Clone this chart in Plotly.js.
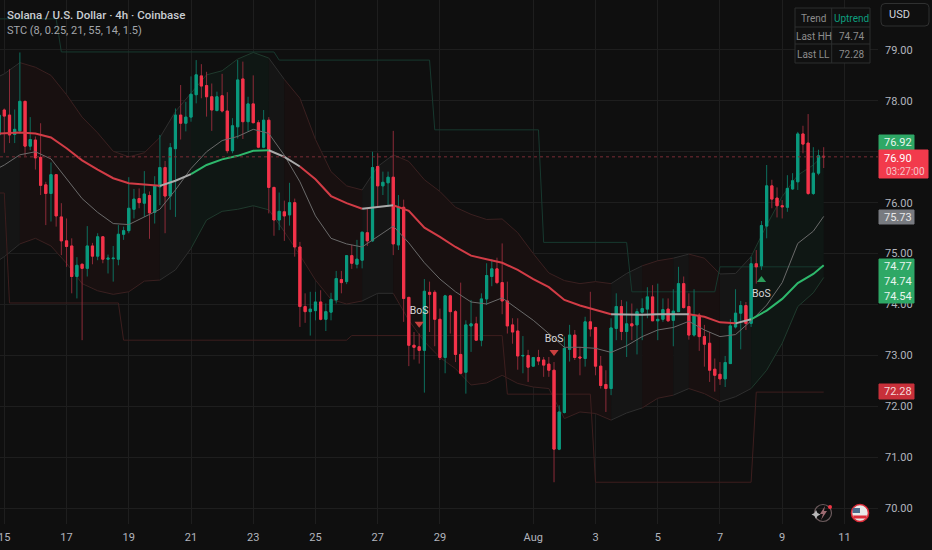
<!DOCTYPE html>
<html>
<head>
<meta charset="utf-8">
<script src="https://cdn.plot.ly/plotly-3.0.1.min.js"></script>
<style>html,body{margin:0;padding:0;background:#0f0f0f}#c{width:932px;height:550px}</style>
</head>
<body>
<div id="c"></div>
<script>
const firstCandle = -1;
const open = [77.33,77.82,77.72,77.34,77.41,77.99,77.11,77.23,76.89,76.35,76.18,76.55,75.72,75.25,75.15,74.55,74.79,74.71,75.15,74.95,75.33,74.89,74.90,74.89,75.38,75.45,75.87,76.08,75.99,76.14,75.81,76.31,76.69,76.13,77.06,77.72,77.56,77.68,78.12,78.49,78.30,78.08,77.81,78.10,77.80,77.02,77.49,78.43,77.59,77.94,77.57,77.09,77.62,76.30,75.66,75.82,75.76,76.00,75.13,73.96,73.86,73.88,74.05,73.71,73.85,74.09,74.49,74.45,74.96,74.79,74.87,75.41,75.25,76.71,76.33,76.39,76.50,75.17,75.91,74.14,73.20,73.17,73.10,74.24,74.24,73.71,72.96,74.17,73.86,73.02,72.67,73.58,73.62,73.30,74.11,74.55,74.70,74.43,74.07,73.60,73.48,72.99,73.00,72.79,72.96,72.91,72.83,72.71,71.16,71.88,73.12,73.40,72.97,72.94,73.66,73.55,72.79,72.43,72.35,73.53,73.96,73.47,73.62,73.60,73.85,73.91,74.15,73.68,73.71,73.91,73.69,73.86,74.41,73.96,73.40,73.79,73.37,73.24,72.73,72.63,72.54,72.84,73.56,73.83,73.98,73.63,74.80,74.76,75.54,76.33,76.09,75.94,75.91,76.27,76.41,77.35,77.17,76.18,76.58,76.91];
const high = [77.95,77.85,78.62,77.83,78.95,78.00,77.68,77.30,77.56,76.41,76.79,76.56,75.99,75.69,75.30,74.93,74.81,75.54,75.21,75.40,75.33,74.98,75.15,75.56,75.53,76.50,76.27,76.28,76.62,76.22,76.52,77.33,76.82,77.17,77.85,78.31,77.98,78.48,78.80,78.72,78.57,78.34,78.18,78.53,78.17,77.66,78.80,78.77,78.08,78.50,77.62,77.82,77.68,76.31,76.20,76.04,76.39,76.08,75.23,74.22,74.25,74.25,74.28,74.02,74.23,74.66,74.66,74.97,75.17,75.27,75.43,75.89,77.00,76.97,76.61,76.61,77.41,76.15,76.06,74.15,73.46,73.43,74.50,74.45,74.28,73.92,74.19,74.19,73.89,74.43,73.69,74.09,73.76,74.22,74.81,74.89,74.92,75.20,74.45,73.73,73.73,73.38,73.11,72.97,73.11,72.97,72.97,72.87,72.02,73.37,73.60,73.50,73.17,73.76,74.25,73.56,72.99,72.71,73.73,74.22,74.09,74.06,74.02,73.92,74.12,74.34,74.38,74.41,74.12,74.12,74.30,74.74,74.55,74.22,74.30,73.83,73.60,73.46,72.94,72.87,72.99,73.71,74.30,74.07,74.05,74.94,75.07,75.64,76.74,76.45,76.30,76.05,76.54,76.58,77.39,77.51,77.74,77.09,77.04,77.09];
const low = [77.23,76.98,77.17,77.17,77.36,76.92,77.03,76.65,76.15,75.56,75.63,75.53,74.97,74.74,74.22,74.12,73.30,74.55,74.79,74.87,74.81,74.61,74.45,74.77,75.27,75.40,75.69,75.89,75.72,75.29,75.59,75.95,75.40,75.86,75.72,77.24,77.40,77.59,77.95,78.05,77.69,77.41,77.79,77.77,76.97,76.97,77.26,77.25,77.40,77.56,77.07,77.07,75.79,75.35,75.46,75.25,75.55,74.94,73.56,73.64,73.39,73.69,73.69,73.48,73.69,74.02,74.22,74.40,74.70,74.71,74.71,75.15,75.23,75.92,76.15,75.92,74.97,75.07,73.66,72.79,72.92,72.84,72.27,73.46,73.18,72.91,72.65,73.43,72.87,72.63,72.25,73.07,73.29,73.18,73.99,74.36,74.40,73.81,73.43,73.23,72.72,72.65,72.48,72.79,72.81,72.58,72.58,70.51,71.14,71.86,72.88,72.91,72.61,72.78,73.37,72.61,72.35,71.89,72.22,73.30,73.30,72.97,73.30,73.02,73.30,73.73,73.68,73.30,73.66,73.66,73.18,73.86,73.92,73.31,73.37,73.09,72.78,72.48,72.29,72.42,72.38,72.84,73.53,73.12,73.50,73.56,74.41,74.68,75.30,75.89,75.71,75.69,75.82,76.25,76.25,76.97,76.15,76.15,76.54,76.68];
const close = [77.72,77.70,77.33,77.44,77.99,77.11,77.24,76.88,76.34,76.18,76.55,75.74,75.25,75.14,74.55,74.77,74.71,75.15,74.95,75.33,74.89,74.91,74.91,75.38,75.45,75.89,76.07,76.00,76.17,75.80,76.33,76.69,76.13,77.08,77.72,77.56,77.68,78.13,78.51,78.29,78.08,77.82,78.08,77.80,77.02,77.51,78.41,77.59,77.94,77.57,77.09,77.62,76.30,75.66,75.83,75.74,76.00,75.13,73.96,73.86,73.91,74.05,73.71,73.86,74.10,74.51,74.43,74.96,74.81,74.89,75.42,75.25,76.69,76.33,76.40,76.50,75.19,75.91,74.12,73.20,73.16,73.10,74.26,74.20,73.71,72.96,74.17,73.86,73.02,72.65,73.60,73.62,73.30,74.11,74.57,74.70,74.43,74.07,73.58,73.46,72.99,73.00,72.77,72.96,72.89,72.81,72.71,71.16,71.89,73.14,73.40,72.96,72.95,73.66,73.52,72.79,72.41,72.35,73.54,73.96,73.47,73.62,73.58,73.86,73.92,74.15,73.68,73.71,73.90,73.68,73.87,74.41,73.94,73.40,73.79,73.37,73.22,72.71,72.61,72.54,72.86,73.58,73.83,73.98,73.63,74.80,74.74,75.55,76.33,76.07,75.94,75.92,76.28,76.43,77.35,77.15,76.18,76.58,76.92,76.90];

const dayTicks = [0,12,24,36,48,60,72,84,102,114,126,138,150,162];
const dayLabels = ["15","17","19","21","23","25","27","29","Aug","3","5","7","9","11"];
const priceTicks = [70,71,72,73,74,75,76,77,78,79];

const bandX = [-3,0,3,6,9,12,15,18,21,24,27,30,33,36,39,42,45,48,51,54,57,60,63,66,69,72,75,78,81,84,87,90,93,96,99,102,105,108,111,114,117,120,123,126,129,132,135,138,141,144,147,150,153,156,158];
const bandUpper = [78.38,78.53,78.75,78.66,78.50,78.12,77.68,77.37,77.01,76.90,76.98,77.28,77.79,78.15,78.51,78.59,78.82,78.95,78.84,78.42,78.05,77.24,76.61,76.33,76.25,76.71,76.94,76.81,76.45,76.22,75.91,75.77,75.67,75.68,75.41,75.00,74.62,74.47,74.41,74.45,74.41,74.61,74.76,74.86,74.91,74.99,74.91,74.60,74.61,74.94,75.56,76.12,76.54,76.74,76.94];
const bandLower = [74.74,74.94,75.19,75.30,75.15,74.81,74.41,74.27,74.20,74.25,74.46,74.48,74.68,75.10,75.66,75.83,75.87,75.94,75.86,75.43,74.97,74.48,74.10,74.01,74.07,74.22,74.22,73.69,73.27,72.96,72.74,72.42,72.46,72.61,72.45,72.38,72.35,71.76,71.89,71.86,71.73,71.87,71.97,72.16,72.22,72.35,72.25,72.09,72.19,72.35,72.71,73.24,73.96,74.23,74.53];
const fastLine = [76.58,76.74,76.94,77.00,76.86,76.48,76.08,75.81,75.59,75.57,75.72,75.87,76.25,76.67,77.00,77.22,77.30,77.44,77.36,76.93,76.41,75.74,75.30,75.19,75.13,75.33,75.54,75.21,74.82,74.50,74.25,74.05,74.01,74.13,73.91,73.69,73.43,73.16,73.16,73.14,73.06,73.19,73.37,73.50,73.55,73.67,73.50,73.37,73.41,73.68,73.99,74.43,75.20,75.44,75.73];
const emaLine = [77.35,77.37,77.38,77.36,77.28,77.07,76.83,76.65,76.48,76.38,76.35,76.33,76.43,76.56,76.74,76.85,76.92,77.02,77.03,76.90,76.71,76.46,76.13,75.99,75.88,75.91,75.95,75.84,75.51,75.33,75.13,74.96,74.89,74.82,74.68,74.50,74.34,74.09,73.98,73.89,73.81,73.80,73.80,73.81,73.81,73.81,73.76,73.65,73.63,73.71,73.88,74.11,74.42,74.60,74.77];

const fillBreaks = [-3,3,30,36,51,54,69,75,117,123,129,132,138,144,158];
const fillStates = ["n","r","n","g","n","r","n","r","n","r","n","r","n","g"];
const emaBreaks = [-3,30,36,51,57,69,75,117,132,141,144,158];
const emaStates = ["r","n","g","n","r","n","r","n","r","n","g"];

const hhX = [-1,10,11,52,53,82,83,103,104,120,121,137,138,158];
const hhY = [79.61,79.61,78.96,78.96,78.80,78.80,77.43,77.43,75.22,75.22,74.25,74.25,74.74,74.74];
const llX = [-1,0,1,22,23,66,67,96,97,113,114,144,145,158];
const llY = [76.19,76.19,74.03,74.03,73.30,73.30,73.39,73.39,72.24,72.24,70.51,70.51,72.28,72.28];

const bosX = [80,106,146];
const bosTextY = [73.87,73.32,74.19];
const bosMarkY = [73.62,73.07,74.48];
const bosSymbol = ["triangle-down","triangle-down","triangle-up"];
const bosColor = ["#c9403f","#c9403f","#2a9d5a"];

const lastClose = 76.90;

const W = 878, H = 524;
const px = x => x / W;
const py = y => 1 - y / H;
const xs = open.map((_, k) => k + firstCandle);

const RED = "#f5334a", GREEN = "#0a9a7e", RED_W = "#8c2b38", GREEN_W = "#0d6f5e";
const fillCol = { r: "#181010", g: "#0f1714", n: "#151515" };
const edgeCol = { r: "#3a2020", g: "#1f3a2d", n: "#2e2e2e" };
const emaCol = { r: "#d23c46", g: "#2eb86c", n: "#aaaaaa" };

const traces = [];
fillStates.forEach((s, k) => {
  const a = bandX.indexOf(fillBreaks[k]), b = bandX.indexOf(fillBreaks[k + 1]) + 1;
  const segX = bandX.slice(a, b);
  traces.push({ type: "scatter", zorder: 0, mode: "lines", x: segX, y: bandLower.slice(a, b), line: { color: edgeCol[s], width: 1 }, hoverinfo: "skip" });
  traces.push({ type: "scatter", zorder: 0, mode: "lines", x: segX, y: bandUpper.slice(a, b), line: { color: edgeCol[s], width: 1 }, fill: "tonexty", fillcolor: fillCol[s], hoverinfo: "skip" });
});
traces.push({ type: "scatter", zorder: 1, mode: "lines", x: hhX, y: hhY, line: { color: "#17392f", width: 1 }, hoverinfo: "skip" });
traces.push({ type: "scatter", zorder: 1, mode: "lines", x: llX, y: llY, line: { color: "#3d1e1e", width: 1 }, hoverinfo: "skip" });

// wicks
traces.push({ type: "candlestick", zorder: 2, x: xs, open, high, low, close, whiskerwidth: 0,
  increasing: { line: { color: GREEN_W, width: 1 }, fillcolor: GREEN_W },
  decreasing: { line: { color: RED_W, width: 1 }, fillcolor: RED_W }, hoverinfo: "skip" });
// bodies
traces.push({ type: "candlestick", zorder: 3, x: xs, open, close,
  high: open.map((o, k) => Math.max(o, close[k])), low: open.map((o, k) => Math.min(o, close[k])),
  whiskerwidth: 0,
  increasing: { line: { color: GREEN, width: 1 }, fillcolor: GREEN },
  decreasing: { line: { color: RED, width: 1 }, fillcolor: RED }, hoverinfo: "skip" });

traces.push({ type: "scatter", zorder: 4, mode: "lines", x: bandX, y: fastLine, line: { color: "#6a6a6a", width: 1 }, hoverinfo: "skip" });
emaStates.forEach((s, k) => {
  const a = bandX.indexOf(emaBreaks[k]), b = bandX.indexOf(emaBreaks[k + 1]) + 1;
  traces.push({ type: "scatter", zorder: 4, mode: "lines", x: bandX.slice(a, b), y: emaLine.slice(a, b), line: { color: emaCol[s], width: 2 }, hoverinfo: "skip" });
});
traces.push({ type: "scatter", zorder: 5, mode: "markers", x: bosX, y: bosMarkY, marker: { symbol: bosSymbol, color: bosColor, size: 8, line: { width: 0 } }, hoverinfo: "skip" });
traces.push({ type: "scatter", zorder: 5, mode: "text", x: bosX, y: bosTextY, text: bosX.map(() => "BoS"), textposition: "middle center", textfont: { color: "#d6d6d6", size: 10.5, family: "Roboto" }, hoverinfo: "skip" });

const FONT = "Roboto";
const shapes = [];
const ann = [];
function rect(x0, y0, x1, y1, fill, line) {
  shapes.push({ type: "rect", xref: "paper", yref: "paper", x0: px(x0), x1: px(x1), y0: py(y0), y1: py(y1), fillcolor: fill, line: { color: line || fill, width: 1 }, layer: "above" });
}
function label(x, y, t, color, size, anchor, weight) {
  ann.push({ xref: "paper", yref: "paper", x: px(x), y: py(y), text: t, showarrow: false, borderpad: 0, borderwidth: 0, xanchor: anchor || "center", yanchor: "middle", font: { color, size: size || 11, family: FONT, weight: weight || 400 } });
}
function line(x0, y0, x1, y1, color) {
  shapes.push({ type: "line", xref: "paper", yref: "paper", x0: px(x0), x1: px(x1), y0: py(y0), y1: py(y1), line: { color, width: 1 }, layer: "above" });
}
function circle(cx, cy, r, fill, lc, lw) {
  shapes.push({ type: "circle", xref: "paper", yref: "paper", x0: px(cx - r), x1: px(cx + r), y0: py(cy + r), y1: py(cy - r), fillcolor: fill, line: { color: lc, width: lw }, layer: "above" });
}
function poly(points, fill) {
  const d = points.map((p, k) => (k ? "L" : "M") + px(p[0]) + "," + py(p[1])).join(" ") + " Z";
  shapes.push({ type: "path", xref: "paper", yref: "paper", path: d, fillcolor: fill, line: { width: 0 }, layer: "above" });
}

// last price dotted line
shapes.push({ type: "line", xref: "paper", yref: "y", x0: 0, x1: 1, y0: lastClose, y1: lastClose, line: { color: "#7a2c35", width: 1, dash: "dot" }, layer: "above" });

// price tags
rect(879, 135, 914, 150, "#2ea866");
label(898, 142.5, "76.92", "#e8f5ee", 11);
rect(879, 150, 928, 178, "#f23a4c");
label(898, 158, "76.90", "#ffffff", 11);
label(905.5, 171, "03:27:00", "#f6c3c8", 10);
rect(879, 210, 914, 224, "#787b80");
label(898, 217, "75.73", "#e8e8e8", 11);
rect(879, 259, 914, 303, "#2ea866");
label(898, 266, "74.77", "#e8f5ee", 11);
label(898, 281.5, "74.74", "#e8f5ee", 11);
label(898, 296, "74.54", "#e8f5ee", 11);
rect(879, 384, 914, 399, "#c8303a");
label(898, 391.7, "72.28", "#f4dada", 11);

// status table
rect(795, 8, 870, 63, "#101010", "#2c2f2f");
line(831.7, 8, 831.7, 63, "#2c2f2f");
line(795, 27, 870, 27, "#2c2f2f");
line(795, 44, 870, 44, "#2c2f2f");
label(813.5, 18, "Trend", "#8c8c8c", 10);
label(851, 18, "Uptrend", "#0e9e7f", 10);
label(813.5, 36, "Last HH", "#8c8c8c", 10);
label(851, 36, "74.74", "#8c8c8c", 10);
label(813.5, 54, "Last LL", "#8c8c8c", 10);
label(851, 54, "72.28", "#8c8c8c", 10);

// currency button
shapes.push({ type: "path", xref: "paper", yref: "paper", layer: "above",
  path: `M${px(885)},${py(3.5)} L${px(925)},${py(3.5)} Q${px(929)},${py(3.5)} ${px(929)},${py(7.5)} L${px(929)},${py(22)} Q${px(929)},${py(26)} ${px(925)},${py(26)} L${px(885)},${py(26)} Q${px(881)},${py(26)} ${px(881)},${py(22)} L${px(881)},${py(7.5)} Q${px(881)},${py(3.5)} ${px(885)},${py(3.5)} Z`,
  fillcolor: "#0f0f0f", line: { color: "#2f3030", width: 1 } });
label(888.5, 15, "USD", "#d1d4dc", 11, "left");

// subtitle
label(7, 30, "STC (8, 0.25, 21, 55, 14, 1.5)", "#a3a6ab", 11, "left");

// bolt icon
circle(823, 513, 8.5, "rgba(0,0,0,0)", "#6b5a5c", 1.2);
poly([[825, 506], [820, 514], [823, 514], [821, 520], [827, 511], [824, 511]], "#9c6a70");
poly([[816, 510], [817.5, 513], [820.5, 514.5], [817.5, 516], [816, 519], [814.5, 516], [811.5, 514.5], [814.5, 513]], "#b8b8b8");
circle(830, 507, 2, "#f23645", "#f23645", 0);

// flag icon
circle(860, 513, 8.5, "#e9e9e9", "#dc2b38", 1.6);
rect(854, 509, 866, 510.5, "#e9e9e9");
poly([[853, 515.5], [867, 515.5], [866, 518.5], [854, 518.5]], "#dc2b38");
poly([[853, 508], [860, 508], [860, 513], [852.5, 513]], "#4c6b8c");

const layout = {
  width: 932, height: 550,
  margin: { l: 0, r: 54, t: 0, b: 26, pad: 0 },
  paper_bgcolor: "#0f0f0f", plot_bgcolor: "#0f0f0f",
  showlegend: false, hovermode: false, boxgap: 0.4, boxmode: "overlay",
  font: { family: FONT, color: "#b2b5be" },
  title: { text: "Solana / U.S. Dollar · 4h · Coinbase", x: 7 / 932, xanchor: "left", xref: "container", y: 1 - 15 / 550, yanchor: "middle", yref: "container", font: { size: 11.5, color: "#c9cdd2", family: FONT, weight: 500 } },
  xaxis: {
    range: [-0.83, 168.47], tickmode: "array", tickvals: dayTicks, ticktext: dayLabels, ticklabeloverflow: "allow",
    showgrid: true, gridcolor: "#1e1e1e", gridwidth: 1, zeroline: false, showline: false,
    ticks: "", tickfont: { size: 11, color: "#b2b5be", family: FONT }, rangeslider: { visible: false }, ticklabelstandoff: 5, fixedrange: true
  },
  yaxis: {
    range: [69.69, 79.98], side: "right", tickmode: "array", tickvals: priceTicks, ticktext: priceTicks.map(v => v.toFixed(2)),
    showgrid: true, gridcolor: "#1e1e1e", gridwidth: 1, zeroline: false, showline: false,
    ticks: "", tickfont: { size: 11, color: "#b2b5be", family: FONT }, ticklabelstandoff: 6, fixedrange: true
  },
  shapes, annotations: ann
};
Plotly.newPlot("c", traces, layout, { displayModeBar: false, staticPlot: true });
</script>
</body>
</html>
